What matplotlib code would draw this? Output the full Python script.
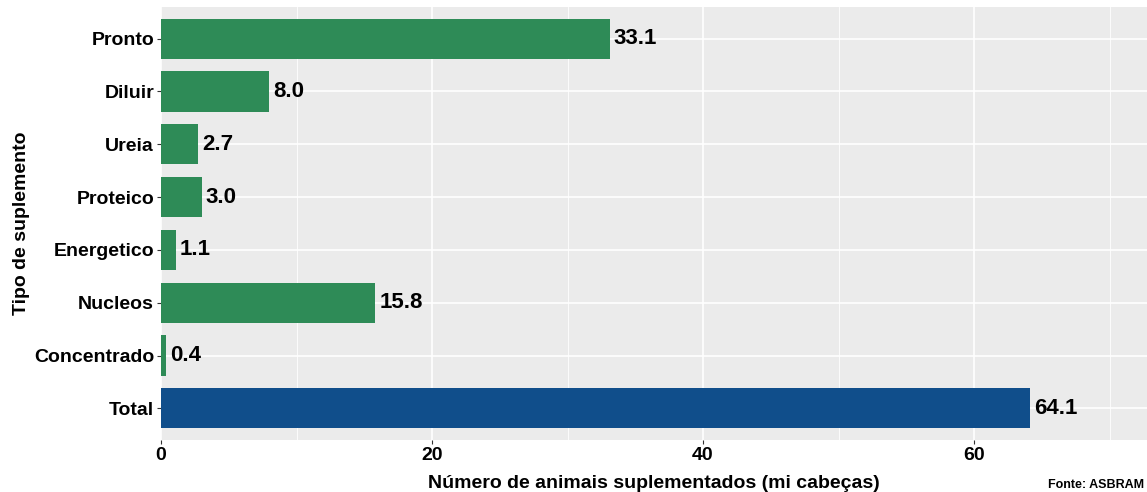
import matplotlib
matplotlib.use("Agg")
import matplotlib.pyplot as plt
from matplotlib.ticker import MultipleLocator

categories = ["Pronto", "Diluir", "Ureia", "Proteico", "Energetico", "Nucleos", "Concentrado", "Total"]
values = [33.1, 8.0, 2.7, 3.0, 1.1, 15.8, 0.4, 64.1]
colors = ["#2E8B57"] * 7 + ["#104E8B"]
x_ticks = [0, 20, 40, 60]

plt.rcParams['font.family'] = ['Liberation Sans', 'DejaVu Sans']
plt.rcParams['font.weight'] = 'bold'

fig = plt.figure(figsize=(11.47, 4.92), dpi=100)
ax = fig.add_axes([161/1147, 1 - 440/492, 1 - 161/1147, (440 - 7)/492])
ax.set_facecolor("#EBEBEB")

ypos = list(range(len(categories)))[::-1]
ax.barh(ypos, values, height=0.76, color=colors, zorder=3)
for y, v in zip(ypos, values):
    ax.annotate(f"{v:.1f}", xy=(v, y), xytext=(3, 0), textcoords="offset points",
                ha="left", va="center", fontsize=16, fontweight="bold", color="black", zorder=4)

ax.set_xlim(0, 986/13.55)
ax.set_ylim(-0.6, len(categories) - 1 + 0.6)
ax.set_yticks(ypos)
ax.set_yticklabels(categories)
ax.set_xticks(x_ticks)
ax.xaxis.set_minor_locator(MultipleLocator(10))
ax.grid(which="major", color="white", linewidth=1.2, zorder=0)
ax.grid(which="minor", axis="x", color="white", linewidth=0.6, zorder=0)
ax.set_axisbelow(True)
for s in ax.spines.values():
    s.set_visible(False)
ax.tick_params(axis="both", which="major", length=3, width=0.8, color="#333333",
               labelsize=14, labelcolor="black", pad=2)
ax.tick_params(axis="x", which="minor", length=0)
for lab in ax.get_xticklabels() + ax.get_yticklabels():
    lab.set_fontweight("bold")

ax.set_xlabel("Número de animais suplementados (mi cabeças)", fontsize=14, fontweight="bold", labelpad=8)
ax.set_ylabel("Tipo de suplemento", fontsize=14, fontweight="bold", labelpad=3)

fig.text(1144/1147, 1/492, "Fonte: ASBRAM", fontsize=9, fontweight="bold", ha="right", va="bottom")

fig.savefig("out.png", dpi=100)
